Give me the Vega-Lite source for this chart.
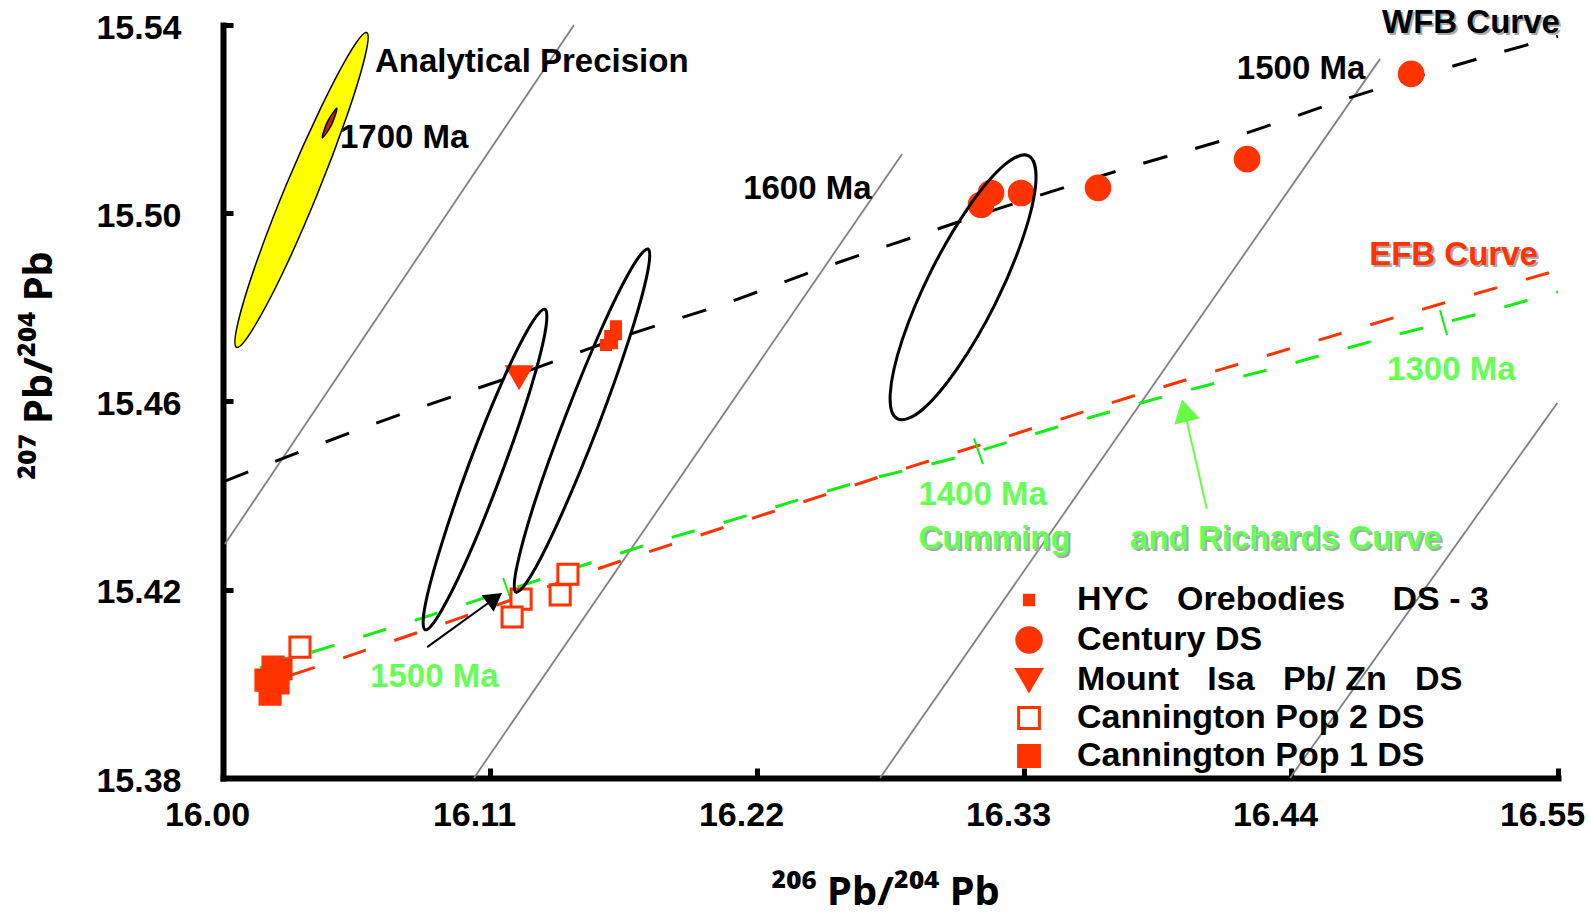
{
  "$schema": "https://vega.github.io/schema/vega-lite/v6.json",
  "width": 1335,
  "height": 753,
  "autosize": {"type": "none"},
  "padding": {"left": 223, "top": 25, "right": 32, "bottom": 137},
  "background": "white",
  "config": {"view": {"stroke": null}},
  "datasets": {
    "points": [
      {"series": "HYC\u00a0\u00a0\u00a0Orebodies\u00a0\u00a0\u00a0\u00a0\u00a0DS - 3", "x": 16.1619, "y": 15.4760},
      {"series": "HYC\u00a0\u00a0\u00a0Orebodies\u00a0\u00a0\u00a0\u00a0\u00a0DS - 3", "x": 16.1619, "y": 15.4743},
      {"series": "HYC\u00a0\u00a0\u00a0Orebodies\u00a0\u00a0\u00a0\u00a0\u00a0DS - 3", "x": 16.1595, "y": 15.4739},
      {"series": "HYC\u00a0\u00a0\u00a0Orebodies\u00a0\u00a0\u00a0\u00a0\u00a0DS - 3", "x": 16.1578, "y": 15.4720},
      {"series": "HYC\u00a0\u00a0\u00a0Orebodies\u00a0\u00a0\u00a0\u00a0\u00a0DS - 3", "x": 16.1603, "y": 15.4724},
      {"series": "Century DS", "x": 16.3123, "y": 15.5018},
      {"series": "Century DS", "x": 16.3164, "y": 15.5043},
      {"series": "Century DS", "x": 16.3288, "y": 15.5043},
      {"series": "Century DS", "x": 16.3605, "y": 15.5054},
      {"series": "Century DS", "x": 16.4219, "y": 15.5115},
      {"series": "Century DS", "x": 16.4895, "y": 15.5296},
      {"series": "Mount\u00a0\u00a0\u00a0Isa\u00a0\u00a0\u00a0Pb/ Zn\u00a0\u00a0\u00a0DS", "x": 16.1220, "y": 15.4652},
      {"series": "Cannington Pop 2 DS", "x": 16.0317, "y": 15.4078},
      {"series": "Cannington Pop 2 DS", "x": 16.1228, "y": 15.4180},
      {"series": "Cannington Pop 2 DS", "x": 16.1191, "y": 15.4142},
      {"series": "Cannington Pop 2 DS", "x": 16.1389, "y": 15.4189},
      {"series": "Cannington Pop 2 DS", "x": 16.1421, "y": 15.4233},
      {"series": "Cannington Pop 1 DS", "x": 16.0206, "y": 15.4036},
      {"series": "Cannington Pop 1 DS", "x": 16.0239, "y": 15.4032},
      {"series": "Cannington Pop 1 DS", "x": 16.0227, "y": 15.4002},
      {"series": "Cannington Pop 1 DS", "x": 16.0194, "y": 15.3978},
      {"series": "Cannington Pop 1 DS", "x": 16.0177, "y": 15.4008}
    ],
    "isochrons": [
      {"id": "a", "x": 16.0008, "y": 15.4297, "x2": 16.1446, "y2": 15.5400},
      {"id": "b", "x": 16.1034, "y": 15.3800, "x2": 16.2798, "y2": 15.5126},
      {"id": "c", "x": 16.2707, "y": 15.3800, "x2": 16.4767, "y2": 15.5328},
      {"id": "d", "x": 16.4396, "y": 15.3800, "x2": 16.5497, "y2": 15.4597}
    ],
    "curves": [
      {"curve": "WFB", "i": 0, "x": 16.0008, "y": 15.4431},
      {"curve": "WFB", "i": 1, "x": 16.0326, "y": 15.4495},
      {"curve": "WFB", "i": 2, "x": 16.0750, "y": 15.4576},
      {"curve": "WFB", "i": 3, "x": 16.1174, "y": 15.4650},
      {"curve": "WFB", "i": 4, "x": 16.1718, "y": 15.4750},
      {"curve": "WFB", "i": 5, "x": 16.2040, "y": 15.4803},
      {"curve": "WFB", "i": 6, "x": 16.2460, "y": 15.4882},
      {"curve": "WFB", "i": 7, "x": 16.2872, "y": 15.4954},
      {"curve": "WFB", "i": 8, "x": 16.3214, "y": 15.5013},
      {"curve": "WFB", "i": 9, "x": 16.3750, "y": 15.5100},
      {"curve": "WFB", "i": 10, "x": 16.4190, "y": 15.5166},
      {"curve": "WFB", "i": 11, "x": 16.4615, "y": 15.5241},
      {"curve": "WFB", "i": 12, "x": 16.5056, "y": 15.5311},
      {"curve": "WFB", "i": 13, "x": 16.5500, "y": 15.5376},
      {"curve": "EFB", "i": 0, "x": 16.0284, "y": 15.4019},
      {"curve": "EFB", "i": 1, "x": 16.0688, "y": 15.4089},
      {"curve": "EFB", "i": 2, "x": 16.1104, "y": 15.4163},
      {"curve": "EFB", "i": 3, "x": 16.1541, "y": 15.4244},
      {"curve": "EFB", "i": 4, "x": 16.1965, "y": 15.4316},
      {"curve": "EFB", "i": 5, "x": 16.2398, "y": 15.4388},
      {"curve": "EFB", "i": 6, "x": 16.2831, "y": 15.4461},
      {"curve": "EFB", "i": 7, "x": 16.3263, "y": 15.4531},
      {"curve": "EFB", "i": 8, "x": 16.3696, "y": 15.4603},
      {"curve": "EFB", "i": 9, "x": 16.4129, "y": 15.4671},
      {"curve": "EFB", "i": 10, "x": 16.4569, "y": 15.4739},
      {"curve": "EFB", "i": 11, "x": 16.5002, "y": 15.4805},
      {"curve": "EFB", "i": 12, "x": 16.5500, "y": 15.4879},
      {"curve": "CR", "i": 0, "x": 16.0152, "y": 15.4034},
      {"curve": "CR", "i": 1, "x": 16.0420, "y": 15.4076},
      {"curve": "CR", "i": 2, "x": 16.0857, "y": 15.4146},
      {"curve": "CR", "i": 3, "x": 16.1290, "y": 15.4219},
      {"curve": "CR", "i": 4, "x": 16.1718, "y": 15.4291},
      {"curve": "CR", "i": 5, "x": 16.2155, "y": 15.4357},
      {"curve": "CR", "i": 6, "x": 16.2592, "y": 15.4425},
      {"curve": "CR", "i": 7, "x": 16.3028, "y": 15.4482},
      {"curve": "CR", "i": 8, "x": 16.3465, "y": 15.4550},
      {"curve": "CR", "i": 9, "x": 16.3902, "y": 15.4614},
      {"curve": "CR", "i": 10, "x": 16.4347, "y": 15.4673},
      {"curve": "CR", "i": 11, "x": 16.4784, "y": 15.4735},
      {"curve": "CR", "i": 12, "x": 16.5229, "y": 15.4794},
      {"curve": "CR", "i": 13, "x": 16.5500, "y": 15.4833}
    ],
    "ageticks": [
      {"age": "1500 Ma", "x": 16.1154, "y": 15.4225, "x2": 16.1191, "y2": 15.4172},
      {"age": "1400 Ma", "x": 16.3094, "y": 15.4522, "x2": 16.3131, "y2": 15.4467},
      {"age": "1300 Ma", "x": 16.5014, "y": 15.4794, "x2": 16.5043, "y2": 15.4741}
    ],
    "ellipses": [
      {"id": "Mount Isa field", "i": 0, "x": 16.1326, "y": 15.4796},
      {"id": "Mount Isa field", "i": 1, "x": 16.1326, "y": 15.4744},
      {"id": "Mount Isa field", "i": 2, "x": 16.1260, "y": 15.4615},
      {"id": "Mount Isa field", "i": 3, "x": 16.1145, "y": 15.4443},
      {"id": "Mount Isa field", "i": 4, "x": 16.1013, "y": 15.4274},
      {"id": "Mount Isa field", "i": 5, "x": 16.0898, "y": 15.4154},
      {"id": "Mount Isa field", "i": 6, "x": 16.0833, "y": 15.4115},
      {"id": "Mount Isa field", "i": 7, "x": 16.0833, "y": 15.4167},
      {"id": "Mount Isa field", "i": 8, "x": 16.0900, "y": 15.4296},
      {"id": "Mount Isa field", "i": 9, "x": 16.1014, "y": 15.4468},
      {"id": "Mount Isa field", "i": 10, "x": 16.1146, "y": 15.4637},
      {"id": "Mount Isa field", "i": 11, "x": 16.1261, "y": 15.4757},
      {"id": "HYC field", "i": 0, "x": 16.1751, "y": 15.4924},
      {"id": "HYC field", "i": 1, "x": 16.1747, "y": 15.4869},
      {"id": "HYC field", "i": 2, "x": 16.1672, "y": 15.4731},
      {"id": "HYC field", "i": 3, "x": 16.1545, "y": 15.4547},
      {"id": "HYC field", "i": 4, "x": 16.1400, "y": 15.4366},
      {"id": "HYC field", "i": 5, "x": 16.1277, "y": 15.4237},
      {"id": "HYC field", "i": 6, "x": 16.1207, "y": 15.4195},
      {"id": "HYC field", "i": 7, "x": 16.1211, "y": 15.4250},
      {"id": "HYC field", "i": 8, "x": 16.1286, "y": 15.4389},
      {"id": "HYC field", "i": 9, "x": 16.1414, "y": 15.4573},
      {"id": "HYC field", "i": 10, "x": 16.1558, "y": 15.4753},
      {"id": "HYC field", "i": 11, "x": 16.1682, "y": 15.4882},
      {"id": "Century field", "i": 0, "x": 16.3319, "y": 15.5122},
      {"id": "Century field", "i": 1, "x": 16.3349, "y": 15.5067},
      {"id": "Century field", "i": 2, "x": 16.3299, "y": 15.4953},
      {"id": "Century field", "i": 3, "x": 16.3182, "y": 15.4808},
      {"id": "Century field", "i": 4, "x": 16.3029, "y": 15.4673},
      {"id": "Century field", "i": 5, "x": 16.2882, "y": 15.4583},
      {"id": "Century field", "i": 6, "x": 16.2779, "y": 15.4563},
      {"id": "Century field", "i": 7, "x": 16.2749, "y": 15.4617},
      {"id": "Century field", "i": 8, "x": 16.2799, "y": 15.4732},
      {"id": "Century field", "i": 9, "x": 16.2916, "y": 15.4876},
      {"id": "Century field", "i": 10, "x": 16.3069, "y": 15.5011},
      {"id": "Century field", "i": 11, "x": 16.3216, "y": 15.5101}
    ],
    "precision": [
      {"id": "Analytical precision", "i": 0, "x": 16.0592, "y": 15.5384},
      {"id": "Analytical precision", "i": 1, "x": 16.0585, "y": 15.5333},
      {"id": "Analytical precision", "i": 2, "x": 16.0510, "y": 15.5206},
      {"id": "Analytical precision", "i": 3, "x": 16.0386, "y": 15.5037},
      {"id": "Analytical precision", "i": 4, "x": 16.0245, "y": 15.4872},
      {"id": "Analytical precision", "i": 5, "x": 16.0123, "y": 15.4754},
      {"id": "Analytical precision", "i": 6, "x": 16.0056, "y": 15.4715},
      {"id": "Analytical precision", "i": 7, "x": 16.0061, "y": 15.4766},
      {"id": "Analytical precision", "i": 8, "x": 16.0136, "y": 15.4893},
      {"id": "Analytical precision", "i": 9, "x": 16.0262, "y": 15.5062},
      {"id": "Analytical precision", "i": 10, "x": 16.0406, "y": 15.5227},
      {"id": "Analytical precision", "i": 11, "x": 16.0527, "y": 15.5345}
    ],
    "model1700": [
      {"id": "1700 Ma", "i": 0, "x": 16.0469, "y": 15.5223},
      {"id": "1700 Ma", "i": 1, "x": 16.0448, "y": 15.5189},
      {"id": "1700 Ma", "i": 2, "x": 16.0409, "y": 15.5160},
      {"id": "1700 Ma", "i": 3, "x": 16.0430, "y": 15.5194}
    ],
    "arrows": [
      {"arrow": "to 1500 Ma", "x": 16.0841, "y": 15.4078, "x2": 16.1120, "y2": 15.4182},
      {"arrow": "to CR curve", "x": 16.4053, "y": 15.4372, "x2": 16.3962, "y2": 15.4578}
    ],
    "arrowheads": [
      {"arrow": "to 1500 Ma", "x": 16.1120, "y": 15.4182},
      {"arrow": "to CR curve", "x": 16.3961, "y": 15.4581}
    ],
    "labels": [
      {"text": "Analytical Precision", "x": 16.0626, "y": 15.5321, "group": "note"},
      {"text": "1700 Ma", "x": 16.0482, "y": 15.5160, "group": "wfb_age"},
      {"text": "1600 Ma", "x": 16.2143, "y": 15.5052, "group": "wfb_age"},
      {"text": "1500 Ma", "x": 16.4177, "y": 15.5307, "group": "wfb_age"},
      {"text": "WFB Curve", "x": 16.4775, "y": 15.5404, "group": "wfb_name"},
      {"text": "EFB Curve", "x": 16.4722, "y": 15.4911, "group": "efb_name"},
      {"text": "1300 Ma", "x": 16.4796, "y": 15.4667, "group": "cr_age"},
      {"text": "1400 Ma", "x": 16.2865, "y": 15.4402, "group": "cr_age"},
      {"text": "Cumming", "x": 16.2865, "y": 15.4308, "group": "cr_name"},
      {"text": "and Richards Curve", "x": 16.3737, "y": 15.4308, "group": "cr_name"},
      {"text": "1500 Ma", "x": 16.0606, "y": 15.4015, "group": "cr_age"}
    ]
  },
  "encoding": {
    "x": {
      "field": "x", "type": "quantitative",
      "scale": {"domain": [16.0, 16.55], "nice": false, "zero": false},
      "axis": {
        "values": [16.0, 16.11, 16.22, 16.33, 16.44, 16.55],
        "format": ".2f",
        "title": "\u00b2\u2070\u2076 Pb/\u00b2\u2070\u2074 Pb",
        "grid": false,
        "domainColor": "black", "domainWidth": 6, "domainCap": "square",
        "tickColor": "black", "tickWidth": 5, "tickSize": -10,
        "labelFont": "Liberation Sans", "labelFontSize": 34, "labelFontWeight": "bold", "labelColor": "black",
        "labelPadding": 30, "labelOffset": -16, "labelBaseline": "top", "labelFlush": false, "labelOverlap": false,
        "titleFont": "Noto Sans", "titleFontSize": 40, "titleFontWeight": "bold", "titleColor": "black",
        "titleX": 662, "titleY": 114, "titleBaseline": "middle", "titleAlign": "center"
      }
    },
    "y": {
      "field": "y", "type": "quantitative",
      "scale": {"domain": [15.38, 15.54], "nice": false, "zero": false},
      "axis": {
        "values": [15.38, 15.42, 15.46, 15.50, 15.54],
        "format": ".2f",
        "title": "\u00b2\u2070\u2077 Pb/\u00b2\u2070\u2074 Pb",
        "grid": false,
        "domainColor": "black", "domainWidth": 6, "domainCap": "square",
        "tickColor": "black", "tickWidth": 5, "tickSize": -10,
        "labelFont": "Liberation Sans", "labelFontSize": 34, "labelFontWeight": "bold", "labelColor": "black",
        "labelPadding": 52, "labelOffset": 3, "labelFlush": false, "labelOverlap": false,
        "titleFont": "Noto Sans", "titleFontSize": 40, "titleFontWeight": "bold", "titleColor": "black",
        "titleAngle": 270, "titleX": -184, "titleY": 340, "titleBaseline": "middle", "titleAlign": "center"
      }
    }
  },
  "layer": [
    {
      "data": {"name": "isochrons"},
      "mark": {"type": "rule", "color": "#808080", "strokeWidth": 1.8},
      "encoding": {"x2": {"field": "x2"}, "y2": {"field": "y2"}}
    },
    {
      "data": {"name": "precision"},
      "mark": {"type": "line", "interpolate": "cardinal-closed", "fill": "#FFFF00", "stroke": "#000000", "strokeWidth": 1.5},
      "encoding": {"order": {"field": "i", "type": "quantitative"}}
    },
    {
      "data": {"name": "model1700"},
      "mark": {"type": "line", "interpolate": "cardinal-closed", "fill": "#CC2200", "stroke": "#000000", "strokeWidth": 1.5},
      "encoding": {"order": {"field": "i", "type": "quantitative"}}
    },
    {
      "data": {"name": "curves"},
      "transform": [{"filter": {"field": "curve", "equal": "WFB"}}],
      "mark": {"type": "line", "interpolate": "monotone", "color": "#000000", "strokeWidth": 3, "strokeDash": [25, 29]},
      "encoding": {"order": {"field": "i", "type": "quantitative"}}
    },
    {
      "data": {"name": "curves"},
      "transform": [{"filter": {"field": "curve", "equal": "EFB"}}],
      "mark": {"type": "line", "interpolate": "monotone", "color": "#FF3300", "strokeWidth": 3, "strokeDash": [24, 30]},
      "encoding": {"order": {"field": "i", "type": "quantitative"}}
    },
    {
      "data": {"name": "curves"},
      "transform": [{"filter": {"field": "curve", "equal": "CR"}}],
      "mark": {"type": "line", "interpolate": "monotone", "color": "#11EE11", "strokeWidth": 3, "strokeDash": [24, 30]},
      "encoding": {"order": {"field": "i", "type": "quantitative"}}
    },
    {
      "data": {"name": "ageticks"},
      "mark": {"type": "rule", "color": "#11EE11", "strokeWidth": 2},
      "encoding": {"x2": {"field": "x2"}, "y2": {"field": "y2"}}
    },
    {
      "data": {"name": "points"},
      "mark": {"type": "point", "filled": true, "stroke": "#FF3300", "strokeWidth": 3, "opacity": 1, "size": 560},
      "encoding": {
        "shape": {
          "field": "series", "type": "nominal",
          "scale": {
            "domain": ["HYC\u00a0\u00a0\u00a0Orebodies\u00a0\u00a0\u00a0\u00a0\u00a0DS - 3", "Century DS", "Mount\u00a0\u00a0\u00a0Isa\u00a0\u00a0\u00a0Pb/ Zn\u00a0\u00a0\u00a0DS", "Cannington Pop 2 DS", "Cannington Pop 1 DS"],
            "range": ["M-0.38,-0.38H0.38V0.38H-0.38Z", "circle", "triangle-down", "M-0.85,-0.85H0.85V0.85H-0.85Z", "M-0.85,-0.85H0.85V0.85H-0.85Z"]
          },
          "legend": {
            "orient": "none", "legendX": 789, "legendY": 558,
            "title": null, "padding": 0,
            "symbolSize": 600, "symbolStrokeWidth": 3, "symbolOpacity": 1,
            "labelFont": "Liberation Sans", "labelFontSize": 34, "labelFontWeight": "bold", "labelColor": "black",
            "labelOffset": 31, "labelLimit": 800, "rowPadding": 4,
            "encode": {
              "symbols": {
                "fill": {
                  "condition": {"test": "datum.value=='Cannington Pop 2 DS'", "value": "#FFFFFF"},
                  "value": "#FF3300"
                },
                "stroke": {"value": "#FF3300"},
                "strokeWidth": {"value": 3},
                "opacity": {"value": 1}
              }
            }
          }
        },
        "fill": {
          "field": "series", "type": "nominal",
          "scale": {
            "domain": ["HYC\u00a0\u00a0\u00a0Orebodies\u00a0\u00a0\u00a0\u00a0\u00a0DS - 3", "Century DS", "Mount\u00a0\u00a0\u00a0Isa\u00a0\u00a0\u00a0Pb/ Zn\u00a0\u00a0\u00a0DS", "Cannington Pop 2 DS", "Cannington Pop 1 DS"],
            "range": ["#FF3300", "#FF3300", "#FF3300", "#FFFFFF", "#FF3300"]
          },
          "legend": null
        }
      }
    },
    {
      "data": {"name": "ellipses"},
      "mark": {"type": "line", "interpolate": "cardinal-closed", "color": "#000000", "strokeWidth": 3},
      "encoding": {"detail": {"field": "id"}, "order": {"field": "i", "type": "quantitative"}}
    },
    {
      "data": {"name": "arrows"},
      "transform": [{"filter": {"field": "arrow", "equal": "to 1500 Ma"}}],
      "mark": {"type": "rule", "color": "#000000", "strokeWidth": 2},
      "encoding": {"x2": {"field": "x2"}, "y2": {"field": "y2"}}
    },
    {
      "data": {"name": "arrowheads"},
      "transform": [{"filter": {"field": "arrow", "equal": "to 1500 Ma"}}],
      "mark": {"type": "point", "shape": "triangle-up", "angle": 54, "size": 420, "filled": true, "color": "#000000", "opacity": 1}
    },
    {
      "data": {"name": "arrows"},
      "transform": [{"filter": {"field": "arrow", "equal": "to CR curve"}}],
      "mark": {"type": "rule", "color": "#66FF44", "strokeWidth": 2},
      "encoding": {"x2": {"field": "x2"}, "y2": {"field": "y2"}}
    },
    {
      "data": {"name": "arrowheads"},
      "transform": [{"filter": {"field": "arrow", "equal": "to CR curve"}}],
      "mark": {"type": "point", "shape": "triangle-up", "angle": 347, "size": 680, "filled": true, "color": "#66FF44", "opacity": 1}
    },
    {
      "data": {"name": "labels"},
      "transform": [{"filter": {"field": "group", "oneOf": ["wfb_name", "efb_name", "cr_name"]}}],
      "mark": {"type": "text", "align": "left", "baseline": "middle", "font": "Liberation Sans", "fontWeight": "bold", "fontSize": 33, "dx": 2, "dy": 2, "color": "#A8A8A8"},
      "encoding": {"text": {"field": "text"}}
    },
    {
      "data": {"name": "labels"},
      "mark": {"type": "text", "align": "left", "baseline": "middle", "font": "Liberation Sans", "fontWeight": "bold", "fontSize": 33},
      "encoding": {
        "text": {"field": "text"},
        "color": {
          "field": "group", "type": "nominal",
          "scale": {"domain": ["note", "wfb_age", "wfb_name", "efb_name", "cr_age", "cr_name"], "range": ["#000000", "#000000", "#000000", "#FF3300", "#66FF55", "#66FF55"]},
          "legend": null
        }
      }
    }
  ]
}
